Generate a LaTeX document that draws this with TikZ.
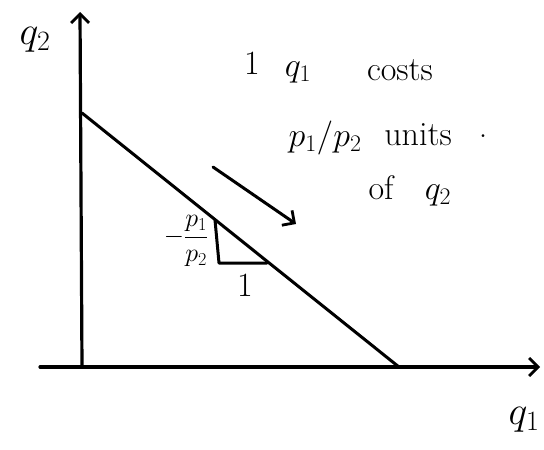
\documentclass[tikz,border=0pt]{standalone}
\usepackage{fix-cm}
\usetikzlibrary{arrows.meta}
\begin{document}
\begin{tikzpicture}[x=1pt,y=-1pt, line cap=round, line join=round,
  tip/.tip={Straight Barb[length=9pt,width=18pt,line width=2.8pt]},
  ax/.style={line width=3.2pt, -tip},
  ln/.style={line width=3pt},
  big/.style={font=\fontsize{40}{44}\selectfont, inner sep=0pt},
  lbl/.style={font=\fontsize{34}{38}\selectfont, inner sep=0pt},
  sml/.style={font=\fontsize{26}{30}\selectfont, inner sep=0pt}]
\useasboundingbox (0,0) rectangle (544,450);
% axes
\coordinate (O) at (82,367);
\coordinate (Ytop) at (80,12);
\coordinate (Xl) at (40,367);
\coordinate (Xr) at (540,367);
\draw[ax] (O) -- (Ytop);
\draw[ax] (Xl) -- (Xr);
% budget line
\coordinate (A) at (82,113);
\coordinate (B) at (399,367);
\draw[ln] (A) -- (B);
% slope triangle
\coordinate (T1) at (215,220);
\coordinate (T2) at (219,263);
\coordinate (T3) at (267,263);
\draw[ln] (T1) -- (T2) -- (T3);
% arrow
\coordinate (S1) at (213,167);
\coordinate (S2) at (296,224);
\draw[ln, -tip] (S1) -- (S2);
% labels
\node[big] (qtwo) at (35,40) {$q_2$};
\node[big] (qone) at (524,420) {$q_1$};
\node[lbl] (one) at (252,64) {$1$};
\node[lbl] (qone2) at (298,72) {$q_1$};
\node[lbl] (costs) at (400,70) {costs};
\node[lbl] (ratio) at (325,138) {$p_1/p_2$};
\node[lbl] (units) at (418,135) {units};
\node[lbl] (dot) at (483,136) {.};
\node[lbl] (of) at (381,188) {of};
\node[lbl] (qtwo2) at (438,195) {$q_2$};
\node[sml] (frac) at (186,241) {$\displaystyle -\frac{p_1}{p_2}$};
\node[lbl] (unit) at (245,286) {$1$};
\end{tikzpicture}
\end{document}
